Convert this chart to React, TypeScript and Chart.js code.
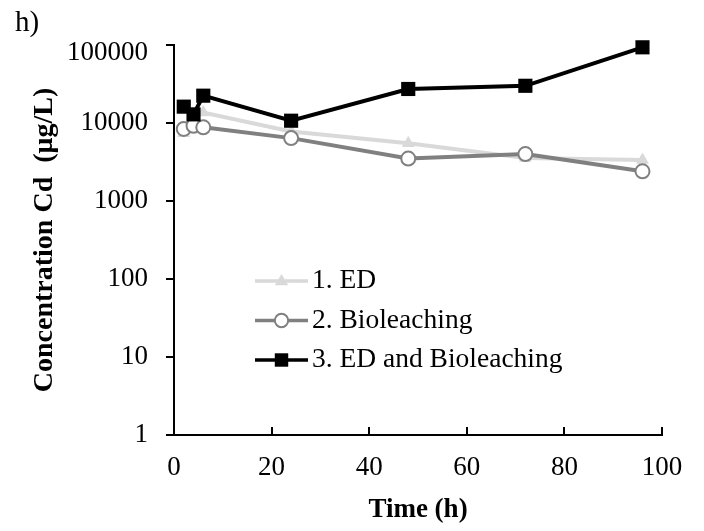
import React, { useEffect, useRef } from "react";
import { Chart, registerables } from "chart.js";

Chart.register(...registerables);

// Sampling times (h)
const TIMES = [2, 4, 6, 24, 48, 72, 96];
// Cd concentration (µg/L) for each treatment
const ED = [7400, 12600, 13600, 7800, 5500, 3550, 3350];
const BIOLEACHING = [8400, 9200, 8800, 6400, 3500, 4000, 2400];
const ED_AND_BIOLEACHING = [16200, 12900, 22400, 10700, 27300, 30000, 93400];

const SERIES_LABELS = ["1. ED", "2. Bioleaching", "3. ED and Bioleaching"];
const X_TICKS = [0, 20, 40, 60, 80, 100];
const Y_TICKS = [1, 10, 100, 1000, 10000, 100000];

const FONT = "'Liberation Serif', 'Times New Roman', serif";
const W = 704;
const H = 531;

type Style = {
  color: string;
  shape: "triangle" | "circle" | "rect";
  fill: string;
  size: number;
};

const STYLES: Style[] = [
  { color: "#d9d9d9", shape: "triangle", fill: "#d9d9d9", size: 7.5 },
  { color: "#808080", shape: "circle", fill: "#ffffff", size: 7 },
  { color: "#000000", shape: "rect", fill: "#000000", size: 10 },
];

function marker(ctx: CanvasRenderingContext2D, s: Style, x: number, y: number, scale: number) {
  ctx.save();
  ctx.fillStyle = s.fill;
  ctx.strokeStyle = s.color;
  ctx.lineWidth = 2;
  ctx.beginPath();
  if (s.shape === "triangle") {
    const r = s.size * scale;
    ctx.moveTo(x, y - r);
    ctx.lineTo(x + r * 0.95, y + r * 0.6);
    ctx.lineTo(x - r * 0.95, y + r * 0.6);
    ctx.closePath();
    ctx.fill();
  } else if (s.shape === "circle") {
    ctx.arc(x, y, s.size * scale, 0, Math.PI * 2);
    ctx.fill();
    ctx.stroke();
  } else {
    const h = s.size * Math.SQRT1_2 * scale;
    ctx.rect(x - h, y - h, 2 * h, 2 * h);
    ctx.fill();
  }
  ctx.restore();
}

// Value labels on the log axis, inward ticks on the time axis,
// the key inside the plot and the panel letter
const decorations = {
  id: "decorations",
  afterDraw(chart: any) {
    const ctx: CanvasRenderingContext2D = chart.ctx;
    const xs = chart.scales.x;
    const ys = chart.scales.y;
    const area = chart.chartArea;
    ctx.save();

    ctx.fillStyle = "#000";
    ctx.font = `27px ${FONT}`;
    ctx.textAlign = "right";
    ctx.textBaseline = "middle";
    Y_TICKS.forEach((v) => {
      const py = Math.max(ys.getPixelForValue(v), area.top + 8);
      ctx.fillText(String(v), area.left - 26, py);
    });

    ctx.strokeStyle = "#000";
    ctx.lineWidth = 2;
    X_TICKS.forEach((v) => {
      const px = Math.round(xs.getPixelForValue(v));
      ctx.beginPath();
      ctx.moveTo(px, area.bottom);
      ctx.lineTo(px, area.bottom - 8);
      ctx.stroke();
    });

    // key
    const lx0 = 255;
    const lx1 = 308;
    const top = 281;
    const gap = 39.5;
    SERIES_LABELS.forEach((label, i) => {
      const y = top + i * gap;
      const s = STYLES[i];
      ctx.strokeStyle = s.color;
      ctx.lineWidth = 3.5;
      ctx.beginPath();
      ctx.moveTo(lx0, y);
      ctx.lineTo(lx1, y);
      ctx.stroke();
      marker(ctx, s, (lx0 + lx1) / 2, y, 0.95);
      ctx.fillStyle = "#000";
      ctx.font = `27.5px ${FONT}`;
      ctx.textBaseline = "middle";
      ctx.textAlign = "left";
      ctx.fillText(label, lx1 + 4, y);
    });

    ctx.fillStyle = "#000";
    ctx.font = `29px ${FONT}`;
    ctx.textBaseline = "middle";
    ctx.textAlign = "left";
    ctx.fillText("h)", 15, 23);
    ctx.restore();
  },
};

export default function App() {
  const ref = useRef<HTMLCanvasElement | null>(null);

  useEffect(() => {
    if (!ref.current) return;
    const series = [ED, BIOLEACHING, ED_AND_BIOLEACHING];
    const chart = new Chart(ref.current, {
      type: "line",
      data: {
        datasets: series.map((vals, i) => {
          const s = STYLES[i];
          return {
            label: SERIES_LABELS[i],
            data: TIMES.map((t, j) => ({ x: t, y: vals[j] })),
            borderColor: s.color,
            backgroundColor: s.fill,
            borderWidth: 4,
            pointStyle: s.shape,
            pointRadius: s.size,
            pointBackgroundColor: s.fill,
            pointBorderColor: s.shape === "circle" ? s.color : s.fill,
            pointBorderWidth: s.shape === "circle" ? 2 : 0,
            tension: 0,
            clip: false,
            order: 3 - i,
          };
        }),
      },
      options: {
        animation: false,
        responsive: false,
        maintainAspectRatio: false,
        layout: { padding: { left: 0, right: 42, top: 45, bottom: 0 } },
        plugins: { legend: { display: false }, tooltip: { enabled: false } },
        scales: {
          x: {
            type: "linear",
            min: 0,
            max: 100,
            afterBuildTicks: (s: any) => {
              s.ticks = X_TICKS.map((v) => ({ value: v }));
            },
            afterFit: (s: any) => {
              s.height = 96;
            },
            ticks: {
              color: "#000",
              font: { family: FONT, size: 27 },
              padding: 17,
              maxRotation: 0,
            },
            grid: { display: true, drawOnChartArea: false, drawTicks: false },
            border: { color: "#000", width: 2 },
            title: {
              display: true,
              text: "Time (h)",
              color: "#000",
              font: { family: FONT, size: 27, weight: "bold" },
              padding: { top: 0, bottom: 5 },
            },
          },
          y: {
            type: "logarithmic",
            min: 1,
            max: 100000,
            afterBuildTicks: (s: any) => {
              s.ticks = Y_TICKS.map((v) => ({ value: v }));
            },
            afterFit: (s: any) => {
              s.width = 174;
            },
            ticks: { display: false },
            grid: {
              display: true,
              drawOnChartArea: false,
              drawTicks: true,
              tickLength: 8,
              color: "#000",
              lineWidth: 2,
            },
            border: { color: "#000", width: 2 },
            title: {
              display: true,
              text: "Concentration Cd  (μg/L)",
              color: "#000",
              font: { family: FONT, size: 28, weight: "bold" },
              padding: { top: 28, bottom: 0 },
            },
          },
        },
      },
      plugins: [decorations],
    });
    return () => chart.destroy();
  }, []);

  return (
    <div style={{ position: "absolute", left: 0, top: 0, width: W, height: H, background: "#fff" }}>
      <canvas ref={ref} width={W} height={H} style={{ display: "block" }} />
    </div>
  );
}
